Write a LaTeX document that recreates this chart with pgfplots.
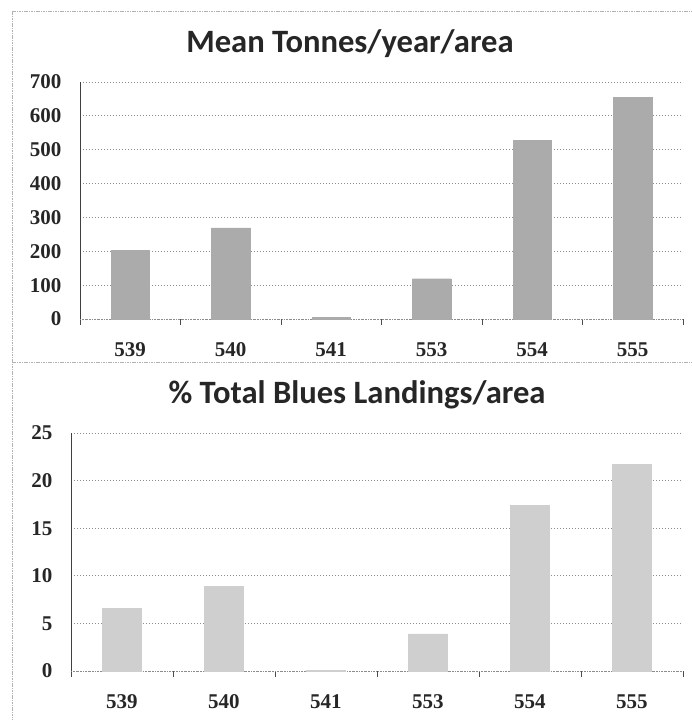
\documentclass[border=0pt]{standalone}
\usepackage{fontspec}
\setmainfont{Liberation Serif}
\newfontfamily\titlefont{Carlito}
\usepackage{pgfplots}
\pgfplotsset{compat=1.18}
\definecolor{barA}{HTML}{ABABAB}
\definecolor{barB}{HTML}{CFCFCF}
\definecolor{gridc}{HTML}{8C8C8C}
\pgfplotsset{
  panel/.style={
    scale only axis,
    ybar,
    bar width=0.38,
    xmin=-0.5, xmax=5.5,
    ymin=0,
    xtick={0,...,5},
    xticklabels={539,540,541,553,554,555},
    major x tick style={draw=none},
    minor xtick={-0.5,0.5,...,5.5},
    minor x tick style={draw=black!70, thin},
    minor tick length=3pt,
    tick align=outside,
    axis x line*=bottom,
    axis y line*=left,
    x axis line style={draw=gridc, dash pattern=on 0.6pt off 0.6pt, -},
    y axis line style={draw=black!75, thin, -},
    ymajorgrids,
    major grid style={draw=gridc, dash pattern=on 0.6pt off 0.9pt, line width=0.4pt},
    major y tick style={draw=none},
    /pgf/number format/assume math mode=true,
    tick label style={font=\fontsize{10.5}{12}\selectfont\bfseries, text=black!85},
    xticklabel style={yshift=-4pt},
    yticklabel style={xshift=-1.5pt},
  }
}
\begin{document}
\begin{tikzpicture}
\path[use as bounding box] (0,0) rectangle (346pt,-360pt);
% frame lines
\draw[gray!60, line width=0.4pt, dash pattern=on 0.8pt off 0.4pt] (6pt,-5.5pt) -- (346pt,-5.5pt);
\draw[gray!60, line width=0.4pt, dash pattern=on 0.8pt off 0.4pt] (6pt,-5.5pt) -- (6pt,-360pt);
\draw[gray!60, line width=0.4pt, dash pattern=on 0.8pt off 0.4pt] (6pt,-181pt) -- (346pt,-181pt);
% titles
\node[font=\titlefont\fontsize{16.3}{18}\selectfont\bfseries, text=black!85] at (175pt,-22pt) {Mean Tonnes/year/area};
\node[font=\titlefont\fontsize{16.3}{18}\selectfont\bfseries, text=black!85] at (178.5pt,-197.5pt) {\% Total Blues Landings/area};
\begin{axis}[panel,
  at={(40pt,-159.5pt)}, anchor=south west,
  width=301.5pt, height=118.5pt,
  ymax=700, ytick={0,100,...,700}]
\addplot[fill=barA, draw=barA, line width=0.2pt] coordinates {(0,203) (1,269) (2,5) (3,119) (4,527) (5,654)};
\end{axis}
\begin{axis}[panel,
  at={(35.5pt,-335.5pt)}, anchor=south west,
  width=306pt, height=119pt,
  ymax=25, ytick={0,5,...,25}]
\addplot[fill=barB, draw=barB, line width=0.2pt] coordinates {(0,6.6) (1,8.9) (2,0.1) (3,3.9) (4,17.4) (5,21.7)};
\end{axis}
\end{tikzpicture}
\end{document}
